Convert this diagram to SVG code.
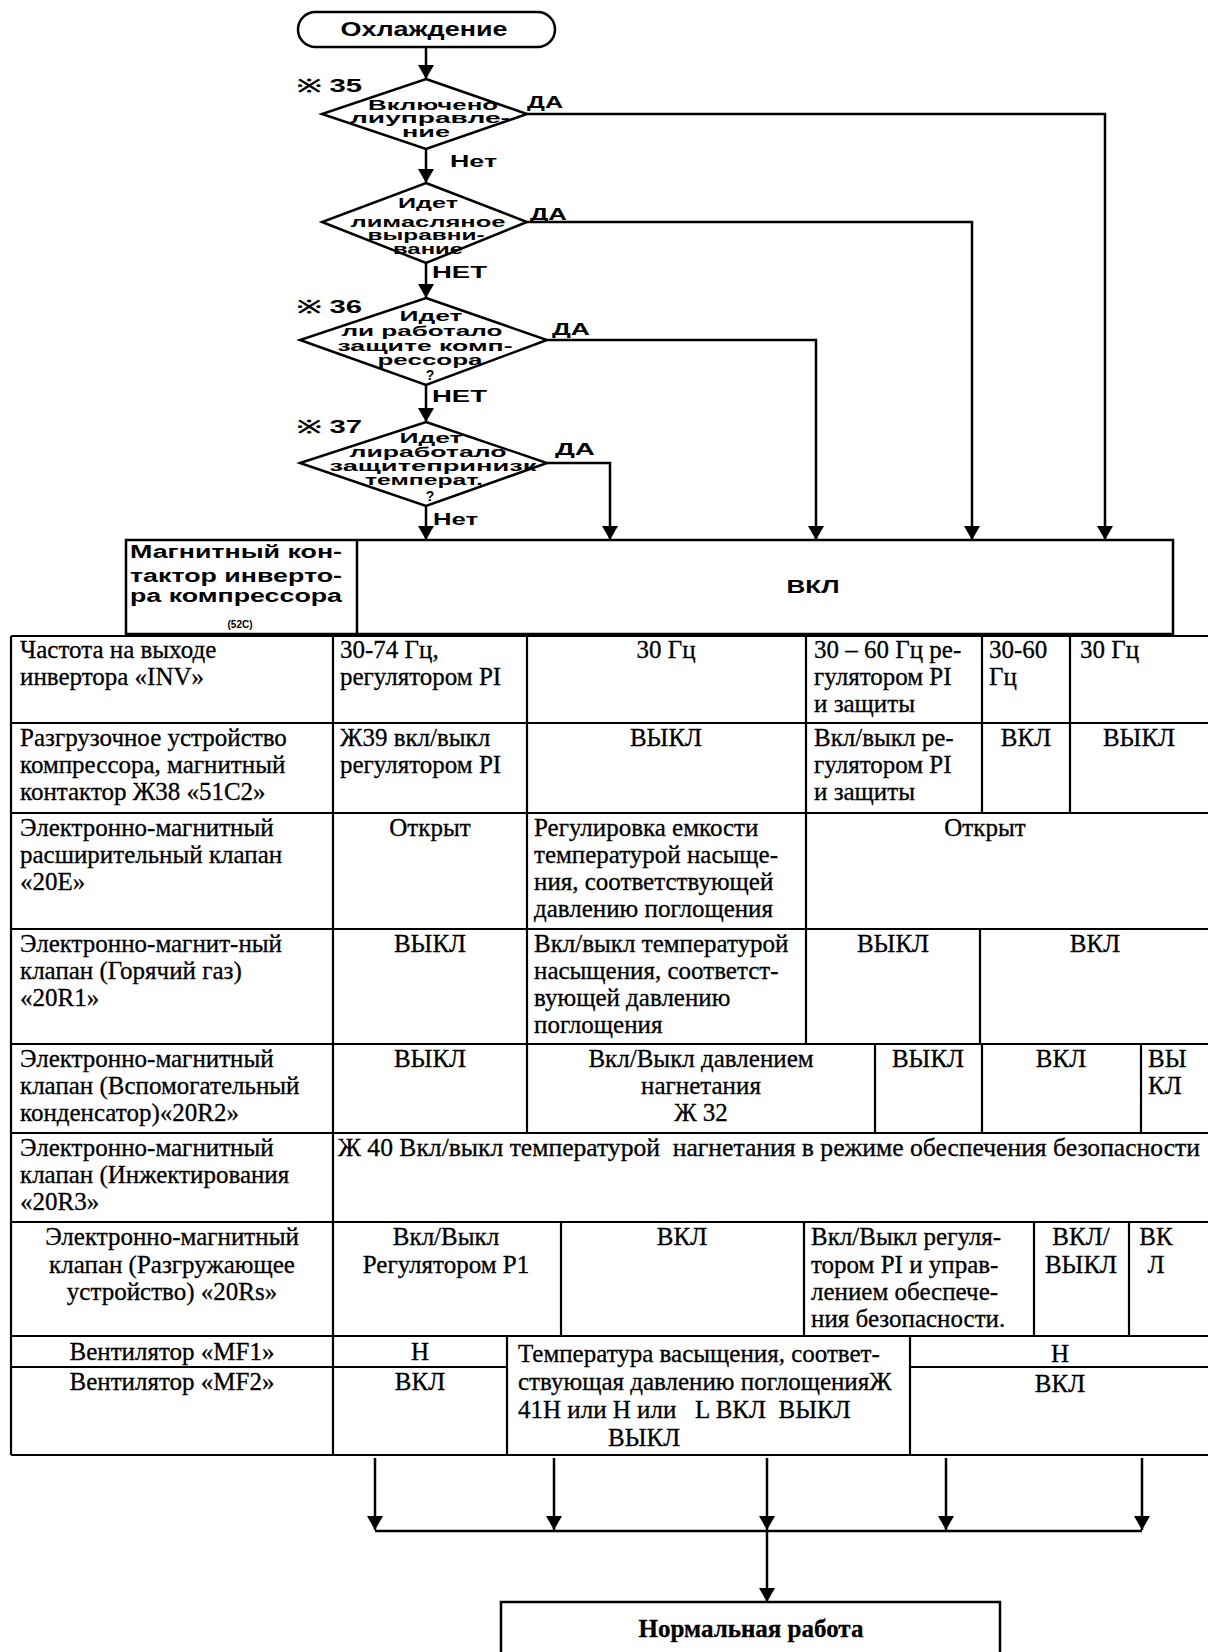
<svg xmlns="http://www.w3.org/2000/svg" width="1208" height="1652" viewBox="0 0 1208 1652">
<style>
.bg{fill:#fff}
.sh{fill:#fff;stroke:#000;stroke-width:2.5}
.ln{stroke:#000;stroke-width:2.5;fill:none}
.tl{stroke:#000;stroke-width:2.2;fill:none}
.s{font-family:"Liberation Sans",Arial,sans-serif;font-weight:bold;fill:#000}
.d{font-size:14px}
.t{font-family:"Liberation Serif","Times New Roman",serif;font-size:25px;fill:#000;stroke:#000;stroke-width:0.3}
.c{text-anchor:middle}
.pre{white-space:pre}
</style>
<defs>
<marker id="ah" viewBox="0 0 14 16" refX="14" refY="8" markerWidth="14" markerHeight="16" markerUnits="userSpaceOnUse" orient="auto">
<path d="M0,0 L14,8 L0,16 Z" fill="#000"/>
</marker>
</defs>
<rect class="bg" x="0" y="0" width="1208" height="1652"/>

<g id="connectors">
<line class="ln" x1="426" y1="47" x2="426" y2="79" marker-end="url(#ah)"/>
<line class="ln" x1="426" y1="149" x2="426" y2="183" marker-end="url(#ah)"/>
<line class="ln" x1="426" y1="263" x2="426" y2="298" marker-end="url(#ah)"/>
<line class="ln" x1="426" y1="385" x2="426" y2="422" marker-end="url(#ah)"/>
<line class="ln" x1="426" y1="506" x2="426" y2="540" marker-end="url(#ah)"/>
<polyline class="ln" points="527,114 1105,114 1105,540" marker-end="url(#ah)"/>
<polyline class="ln" points="527,222 972,222 972,540" marker-end="url(#ah)"/>
<polyline class="ln" points="547,340 816,340 816,540" marker-end="url(#ah)"/>
<polyline class="ln" points="547,463 610,463 610,540" marker-end="url(#ah)"/>
<line class="ln" x1="375" y1="1458" x2="375" y2="1530" marker-end="url(#ah)"/>
<line class="ln" x1="554" y1="1458" x2="554" y2="1530" marker-end="url(#ah)"/>
<line class="ln" x1="767" y1="1458" x2="767" y2="1530" marker-end="url(#ah)"/>
<line class="ln" x1="946" y1="1458" x2="946" y2="1530" marker-end="url(#ah)"/>
<line class="ln" x1="1142" y1="1458" x2="1142" y2="1530" marker-end="url(#ah)"/>
<line class="ln" x1="375" y1="1531" x2="1142" y2="1531"/>
<line class="ln" x1="767" y1="1531" x2="767" y2="1602" marker-end="url(#ah)"/>
<text class="s" x="527" y="108" font-size="17" textLength="36" lengthAdjust="spacingAndGlyphs">ДА</text>
<text class="s" x="450" y="167" font-size="16" textLength="47" lengthAdjust="spacingAndGlyphs">Нет</text>
<text class="s" x="530" y="220" font-size="17" textLength="37" lengthAdjust="spacingAndGlyphs">ДА</text>
<text class="s" x="432" y="278" font-size="16" textLength="55" lengthAdjust="spacingAndGlyphs">НЕТ</text>
<text class="s" x="552" y="335" font-size="17" textLength="38" lengthAdjust="spacingAndGlyphs">ДА</text>
<text class="s" x="432" y="402" font-size="16" textLength="55" lengthAdjust="spacingAndGlyphs">НЕТ</text>
<text class="s" x="555" y="455" font-size="17" textLength="40" lengthAdjust="spacingAndGlyphs">ДА</text>
<text class="s" x="433" y="525" font-size="16" textLength="45" lengthAdjust="spacingAndGlyphs">Нет</text>
</g>

<g id="start">
<rect class="sh" x="298" y="12" width="257" height="35" rx="17.5"/>
<text class="s c" x="424" y="36" font-size="20" textLength="167" lengthAdjust="spacingAndGlyphs">Охлаждение</text>
</g>

<g id="d35">
<text class="s" x="297" y="92" font-size="18" textLength="65" lengthAdjust="spacingAndGlyphs">※ 35</text>
<polygon class="sh" points="426,79 527,114 426,149 322,114"/>
<text class="s d c" x="433" y="110" textLength="130" lengthAdjust="spacingAndGlyphs">Включено</text>
<text class="s d c" x="430" y="123" textLength="160" lengthAdjust="spacingAndGlyphs">лиуправле-</text>
<text class="s d c" x="426" y="137" textLength="48" lengthAdjust="spacingAndGlyphs">ние</text>
</g>

<g id="d_oil">
<polygon class="sh" points="426,183 527,222 426,263 322,222"/>
<text class="s d c" x="428" y="208" textLength="60" lengthAdjust="spacingAndGlyphs">Идет</text>
<text class="s d c" x="428" y="227" textLength="155" lengthAdjust="spacingAndGlyphs">лимасляное</text>
<text class="s d c" x="426" y="240" textLength="117" lengthAdjust="spacingAndGlyphs">выравни-</text>
<text class="s d c" x="428" y="254" textLength="70" lengthAdjust="spacingAndGlyphs">вание</text>
</g>

<g id="d36">
<text class="s" x="297" y="313" font-size="18" textLength="65" lengthAdjust="spacingAndGlyphs">※ 36</text>
<polygon class="sh" points="426,298 547,340 426,385 300,340"/>
<text class="s d c" x="431" y="321" textLength="63" lengthAdjust="spacingAndGlyphs">Идет</text>
<text class="s d c" x="422" y="336" textLength="161" lengthAdjust="spacingAndGlyphs">ли работало</text>
<text class="s d c" x="425" y="351" textLength="175" lengthAdjust="spacingAndGlyphs">защите комп-</text>
<text class="s d c" x="430" y="365" textLength="105" lengthAdjust="spacingAndGlyphs">рессора</text>
<text class="s d c" x="430" y="380">?</text>
</g>

<g id="d37">
<text class="s" x="297" y="433" font-size="18" textLength="65" lengthAdjust="spacingAndGlyphs">※ 37</text>
<polygon class="sh" points="426,422 547,463 426,506 300,463"/>
<text class="s d c" x="431" y="443" textLength="63" lengthAdjust="spacingAndGlyphs">Идет</text>
<text class="s d c" x="428" y="457" textLength="157" lengthAdjust="spacingAndGlyphs">лиработало</text>
<text class="s d c" x="433" y="471" textLength="207" lengthAdjust="spacingAndGlyphs">защитепринизк</text>
<text class="s d c" x="424" y="485" textLength="118" lengthAdjust="spacingAndGlyphs">температ.</text>
<text class="s d c" x="430" y="501">?</text>
</g>

<g id="contactor">
<rect class="sh" x="126" y="540" width="1047" height="94"/>
<line class="ln" x1="357" y1="540" x2="357" y2="634"/>
<text class="s" x="130" y="558" font-size="18" textLength="212" lengthAdjust="spacingAndGlyphs">Магнитный кон-</text>
<text class="s" x="130" y="582" font-size="18" textLength="212" lengthAdjust="spacingAndGlyphs">тактор инверто-</text>
<text class="s" x="130" y="602" font-size="18" textLength="212" lengthAdjust="spacingAndGlyphs">ра компрессора</text>
<text class="s c" x="240" y="628" font-size="10">(52C)</text>
<text class="s c" x="813" y="593" font-size="19" textLength="53" lengthAdjust="spacingAndGlyphs">ВКЛ</text>
</g>

<g id="table-grid">
<line class="tl" x1="11" y1="636" x2="1208" y2="636"/>
<line class="tl" x1="11" y1="723" x2="1208" y2="723"/>
<line class="tl" x1="11" y1="813" x2="1208" y2="813"/>
<line class="tl" x1="11" y1="929" x2="1208" y2="929"/>
<line class="tl" x1="11" y1="1044" x2="1208" y2="1044"/>
<line class="tl" x1="11" y1="1133" x2="1208" y2="1133"/>
<line class="tl" x1="11" y1="1222" x2="1208" y2="1222"/>
<line class="tl" x1="11" y1="1336" x2="1208" y2="1336"/>
<line class="tl" x1="11" y1="1367" x2="507" y2="1367"/>
<line class="tl" x1="910" y1="1367" x2="1208" y2="1367"/>
<line class="tl" x1="11" y1="1455" x2="1208" y2="1455"/>
<line class="tl" x1="11" y1="636" x2="11" y2="1455"/>
<line class="tl" x1="333" y1="636" x2="333" y2="1455"/>
<line class="tl" x1="527" y1="636" x2="527" y2="1044"/>
<line class="tl" x1="806" y1="636" x2="806" y2="1044"/>
<line class="tl" x1="982" y1="636" x2="982" y2="813"/>
<line class="tl" x1="1070" y1="636" x2="1070" y2="813"/>
<line class="tl" x1="980" y1="929" x2="980" y2="1044"/>
<line class="tl" x1="527" y1="1044" x2="527" y2="1133"/>
<line class="tl" x1="875" y1="1044" x2="875" y2="1133"/>
<line class="tl" x1="982" y1="1044" x2="982" y2="1133"/>
<line class="tl" x1="1141" y1="1044" x2="1141" y2="1133"/>
<line class="tl" x1="561" y1="1222" x2="561" y2="1336"/>
<line class="tl" x1="804" y1="1222" x2="804" y2="1336"/>
<line class="tl" x1="1034" y1="1222" x2="1034" y2="1336"/>
<line class="tl" x1="1129" y1="1222" x2="1129" y2="1336"/>
<line class="tl" x1="507" y1="1336" x2="507" y2="1455"/>
<line class="tl" x1="910" y1="1336" x2="910" y2="1455"/>
</g>

<g id="row-inv">
<text class="t" x="20" y="658">Частота на выходе</text>
<text class="t" x="20" y="685">инвертора «INV»</text>
<text class="t" x="340" y="658">30-74 Гц,</text>
<text class="t" x="340" y="685">регулятором PI</text>
<text class="t c" x="666" y="658">30 Гц</text>
<text class="t" x="814" y="658">30 – 60 Гц ре-</text>
<text class="t" x="814" y="685">гулятором PI</text>
<text class="t" x="814" y="712">и защиты</text>
<text class="t" x="989" y="658">30-60</text>
<text class="t" x="989" y="685">Гц</text>
<text class="t" x="1080" y="658">30 Гц</text>
</g>

<g id="row-51c2">
<text class="t" x="20" y="746">Разгрузочное устройство</text>
<text class="t" x="20" y="773">компрессора, магнитный</text>
<text class="t" x="20" y="800">контактор Ж38 «51C2»</text>
<text class="t" x="340" y="746">Ж39 вкл/выкл</text>
<text class="t" x="340" y="773">регулятором PI</text>
<text class="t c" x="666" y="746">ВЫКЛ</text>
<text class="t" x="814" y="746">Вкл/выкл ре-</text>
<text class="t" x="814" y="773">гулятором PI</text>
<text class="t" x="814" y="800">и защиты</text>
<text class="t c" x="1026" y="746">ВКЛ</text>
<text class="t c" x="1139" y="746">ВЫКЛ</text>
</g>

<g id="row-20e">
<text class="t" x="20" y="836">Электронно-магнитный</text>
<text class="t" x="20" y="863">расширительный клапан</text>
<text class="t" x="20" y="890">«20E»</text>
<text class="t c" x="430" y="836">Открыт</text>
<text class="t" x="534" y="836">Регулировка емкости</text>
<text class="t" x="534" y="863">температурой насыще-</text>
<text class="t" x="534" y="890">ния, соответствующей</text>
<text class="t" x="534" y="917">давлению поглощения</text>
<text class="t c" x="985" y="836">Открыт</text>
</g>

<g id="row-20r1">
<text class="t" x="20" y="952">Электронно-магнит-ный</text>
<text class="t" x="20" y="979">клапан (Горячий газ)</text>
<text class="t" x="20" y="1006">«20R1»</text>
<text class="t c" x="430" y="952">ВЫКЛ</text>
<text class="t" x="534" y="952">Вкл/выкл температурой</text>
<text class="t" x="534" y="979">насыщения, соответст-</text>
<text class="t" x="534" y="1006">вующей давлению</text>
<text class="t" x="534" y="1033">поглощения</text>
<text class="t c" x="893" y="952">ВЫКЛ</text>
<text class="t c" x="1095" y="952">ВКЛ</text>
</g>

<g id="row-20r2">
<text class="t" x="20" y="1067">Электронно-магнитный</text>
<text class="t" x="20" y="1094">клапан (Вспомогательный</text>
<text class="t" x="20" y="1121">конденсатор)«20R2»</text>
<text class="t c" x="430" y="1067">ВЫКЛ</text>
<text class="t c" x="701" y="1067">Вкл/Выкл давлением</text>
<text class="t c" x="701" y="1094">нагнетания</text>
<text class="t c" x="701" y="1121">Ж 32</text>
<text class="t c" x="928" y="1067">ВЫКЛ</text>
<text class="t c" x="1061" y="1067">ВКЛ</text>
<text class="t" x="1148" y="1067">ВЫ</text>
<text class="t" x="1148" y="1094">КЛ</text>
</g>

<g id="row-20r3">
<text class="t" x="20" y="1156">Электронно-магнитный</text>
<text class="t" x="20" y="1183">клапан (Инжектирования</text>
<text class="t" x="20" y="1210">«20R3»</text>
<text class="t pre" x="338" y="1156" textLength="862" lengthAdjust="spacingAndGlyphs">Ж 40 Вкл/выкл температурой  нагнетания в режиме обеспечения безопасности</text>
</g>

<g id="row-20rs">
<text class="t c" x="172" y="1245">Электронно-магнитный</text>
<text class="t c" x="172" y="1273">клапан (Разгружающее</text>
<text class="t c" x="172" y="1300">устройство) «20Rs»</text>
<text class="t c" x="446" y="1245">Вкл/Выкл</text>
<text class="t c" x="446" y="1273">Регулятором Р1</text>
<text class="t c" x="682" y="1245">ВКЛ</text>
<text class="t" x="811" y="1245">Вкл/Выкл регуля-</text>
<text class="t" x="811" y="1273">тором PI и управ-</text>
<text class="t" x="811" y="1300">лением обеспече-</text>
<text class="t" x="811" y="1327">ния безопасности.</text>
<text class="t c" x="1081" y="1245">ВКЛ/</text>
<text class="t c" x="1081" y="1273">ВЫКЛ</text>
<text class="t c" x="1156" y="1245">ВК</text>
<text class="t c" x="1156" y="1273">Л</text>
</g>

<g id="row-fans">
<text class="t c" x="172" y="1360">Вентилятор «MF1»</text>
<text class="t c" x="172" y="1390">Вентилятор «MF2»</text>
<text class="t c" x="420" y="1360">Н</text>
<text class="t c" x="420" y="1390">ВКЛ</text>
<text class="t" x="518" y="1362">Температура васыщения, соответ-</text>
<text class="t" x="518" y="1390">ствующая давлению поглощенияЖ</text>
<text class="t pre" x="518" y="1418">41Н или Н или   L ВКЛ  ВЫКЛ</text>
<text class="t" x="608" y="1446">ВЫКЛ</text>
<text class="t c" x="1060" y="1362">Н</text>
<text class="t c" x="1060" y="1392">ВКЛ</text>
</g>

<g id="normal">
<rect class="sh" x="501" y="1602" width="499" height="70"/>
<text class="t c" x="751" y="1637" font-weight="bold">Нормальная работа</text>
</g>
</svg>
